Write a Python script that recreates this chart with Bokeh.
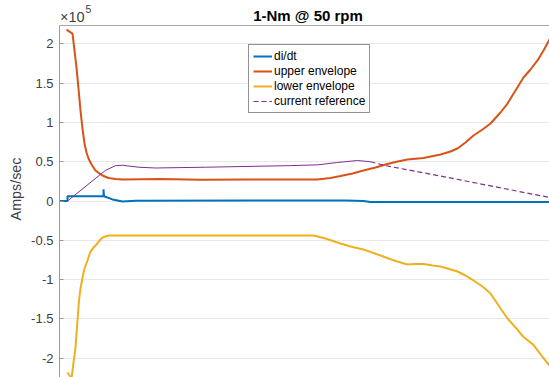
from bokeh.plotting import figure
from bokeh.models import (Range1d, FixedTicker, CustomJSTickFormatter, Legend, LegendItem,
                          Label, Span)
from bokeh.embed import file_html
from bokeh.resources import INLINE

# ---- data (time in arbitrary units, values in Amps/sec) ----
didt_x = [0.0, 0.08, 0.08, 0.44, 0.44, 0.445, 0.53, 0.63, 0.76, 1.91, 2.86, 3.04, 3.11, 4.95]
didt_y = [0.0, 0.0, 0.06e5, 0.06e5, 0.15e5, 0.06e5, 0.02e5, -0.005e5, 0.003e5, 0.005e5,
          0.005e5, 0.0, -0.012e5, -0.012e5]

upper_x = [0.07, 0.13, 0.17, 0.19, 0.21, 0.23, 0.25, 0.27, 0.29, 0.32, 0.36, 0.40, 0.43,
           0.49, 0.56, 0.63, 1.01, 1.41, 1.91, 2.58, 2.71, 2.81, 2.93, 3.04, 3.16, 3.26,
           3.36, 3.48, 3.64, 3.81, 3.91, 3.98, 4.06, 4.14, 4.23, 4.31, 4.41, 4.48, 4.56,
           4.64, 4.71, 4.78, 4.84, 4.90, 4.95]
upper_y = [2.18e5, 2.13e5, 1.698e5, 1.431e5, 1.151e5, 0.922e5, 0.731e5, 0.617e5, 0.541e5,
           0.464e5, 0.388e5, 0.350e5, 0.324e5, 0.293e5, 0.280e5, 0.274e5, 0.28e5, 0.272e5,
           0.274e5, 0.274e5, 0.293e5, 0.318e5, 0.350e5, 0.388e5, 0.426e5, 0.464e5, 0.496e5,
           0.528e5, 0.547e5, 0.592e5, 0.630e5, 0.668e5, 0.744e5, 0.833e5, 0.910e5, 0.986e5,
           1.126e5, 1.240e5, 1.406e5, 1.571e5, 1.673e5, 1.788e5, 1.915e5, 2.055e5, 2.15e5]

lower_x = [0.08, 0.12, 0.14, 0.16, 0.18, 0.195, 0.21, 0.23, 0.25, 0.28, 0.31, 0.34, 0.37,
           0.40, 0.43, 0.49, 0.91, 1.91, 2.54, 2.66, 2.81, 2.93, 3.04, 3.21, 3.36, 3.48,
           3.56, 3.64, 3.73, 3.81, 3.98, 4.06, 4.14, 4.23, 4.31, 4.39, 4.48, 4.56, 4.64,
           4.74, 4.82, 4.90, 4.95]
lower_y = [-2.182e5, -2.258e5, -2.055e5, -1.864e5, -1.520e5, -1.266e5, -1.113e5, -0.973e5,
           -0.859e5, -0.757e5, -0.643e5, -0.592e5, -0.553e5, -0.503e5, -0.464e5, -0.439e5,
           -0.44e5, -0.44e5, -0.439e5, -0.477e5, -0.541e5, -0.585e5, -0.617e5, -0.693e5,
           -0.763e5, -0.808e5, -0.802e5, -0.802e5, -0.821e5, -0.833e5, -0.897e5, -0.948e5,
           -1.011e5, -1.088e5, -1.177e5, -1.329e5, -1.495e5, -1.609e5, -1.730e5, -1.830e5,
           -1.966e5, -2.093e5, -2.19e5]

ref_x = [0.08, 0.46, 0.56, 0.63, 0.79, 0.96, 1.46, 2.31, 2.58, 2.78, 2.98, 3.11, 3.26,
         3.88, 4.90, 4.95]
ref_y = [0.0, 0.39e5, 0.45e5, 0.455e5, 0.43e5, 0.42e5, 0.43e5, 0.45e5, 0.46e5, 0.49e5,
         0.515e5, 0.50e5, 0.45e5, 0.30e5, 0.045e5, 0.035e5]
ref_split = 11  # noisy (visually solid) part ends here

y_ticks = [-2e5, -1.5e5, -1e5, -0.5e5, 0, 0.5e5, 1e5, 1.5e5, 2e5]
y_min, y_max = -2.2455e5, 2.233e5   # axes box limits

title_text = "1-Nm @ 50 rpm"
y_label = "Amps/sec"
legend_labels = ["di/dt", "upper envelope", "lower envelope", "current reference"]

FONT = "Liberation Sans"

# frame reaches the canvas top; the axes box top is drawn as a span at y_max
p = figure(width=549, height=377, output_backend="svg", toolbar_location=None,
           x_axis_location=None, y_axis_location="left",
           x_range=Range1d(0, 4.9), y_range=Range1d(y_min, 2.551e5),
           min_border_left=59, min_border_right=0, min_border_top=0, min_border_bottom=0)
p.outline_line_color = None
p.background_fill_color = "white"
p.border_fill_color = "white"

yax = p.yaxis[0]
yax.bounds = (-3e5, y_max)
yax.ticker = FixedTicker(ticks=y_ticks)
yax.formatter = CustomJSTickFormatter(code="return String(Math.round(tick/1e4)/10);")
yax.axis_line_color = "#9a9a9a"
yax.major_tick_line_color = "#9a9a9a"
yax.major_tick_in = 4
yax.major_tick_out = 0
yax.minor_tick_line_color = None
yax.major_label_text_font = FONT
yax.major_label_text_font_size = "13px"
yax.major_label_text_color = "#404040"
yax.major_label_standoff = 6
yax.axis_label = y_label
yax.axis_label_text_font = FONT
yax.axis_label_text_font_size = "14.3px"
yax.axis_label_text_font_style = "normal"
yax.axis_label_text_color = "#404040"
yax.axis_label_standoff = 4

p.xgrid.visible = False
p.ygrid.ticker = FixedTicker(ticks=y_ticks)
p.ygrid.grid_line_color = "#e8e8e8"
p.ygrid.grid_line_width = 1

p.add_layout(Span(location=y_max, dimension="width", line_color="#a6a6a6", line_width=1))

r_didt = p.line(didt_x, didt_y, line_color="#0072BD", line_width=2)
r_up = p.line(upper_x, upper_y, line_color="#D95319", line_width=2)
r_lo = p.line(lower_x, lower_y, line_color="#EDB120", line_width=2)
r_ref_a = p.line(ref_x[:ref_split + 1], ref_y[:ref_split + 1], line_color="#7E2F8E", line_width=1)
r_ref_b = p.line(ref_x[ref_split:], ref_y[ref_split:], line_color="#7E2F8E", line_width=1.2,
                 line_dash="5 3")

legend = Legend(items=[LegendItem(label=legend_labels[0], renderers=[r_didt]),
                       LegendItem(label=legend_labels[1], renderers=[r_up]),
                       LegendItem(label=legend_labels[2], renderers=[r_lo]),
                       LegendItem(label=legend_labels[3], renderers=[r_ref_b])],
                location=(189, 264), padding=4, spacing=1, margin=0,
                label_height=14, glyph_height=14, glyph_width=19, label_standoff=2,
                label_text_font=FONT, label_text_font_size="12px", label_text_color="#000000",
                border_line_color="#262626", border_line_width=1,
                background_fill_color="white", background_fill_alpha=1)
p.add_layout(legend, "center")

# title and exponent (screen units relative to frame bottom-left)
p.add_layout(Label(x=248.5, y=362.5, x_units="screen", y_units="screen", text=title_text,
                   text_font=FONT, text_font_size="15px", text_font_style="bold",
                   text_align="center", text_baseline="middle", text_color="#000000"))
p.add_layout(Label(x=0.5, y=361, x_units="screen", y_units="screen", text="×10",
                   text_font=FONT, text_font_size="14.5px", text_align="left",
                   text_baseline="middle", text_color="#404040"))
p.add_layout(Label(x=26, y=369, x_units="screen", y_units="screen", text="5",
                   text_font=FONT, text_font_size="10.5px", text_align="left",
                   text_baseline="middle", text_color="#404040"))

open("out.html", "w").write(file_html(p, INLINE))
